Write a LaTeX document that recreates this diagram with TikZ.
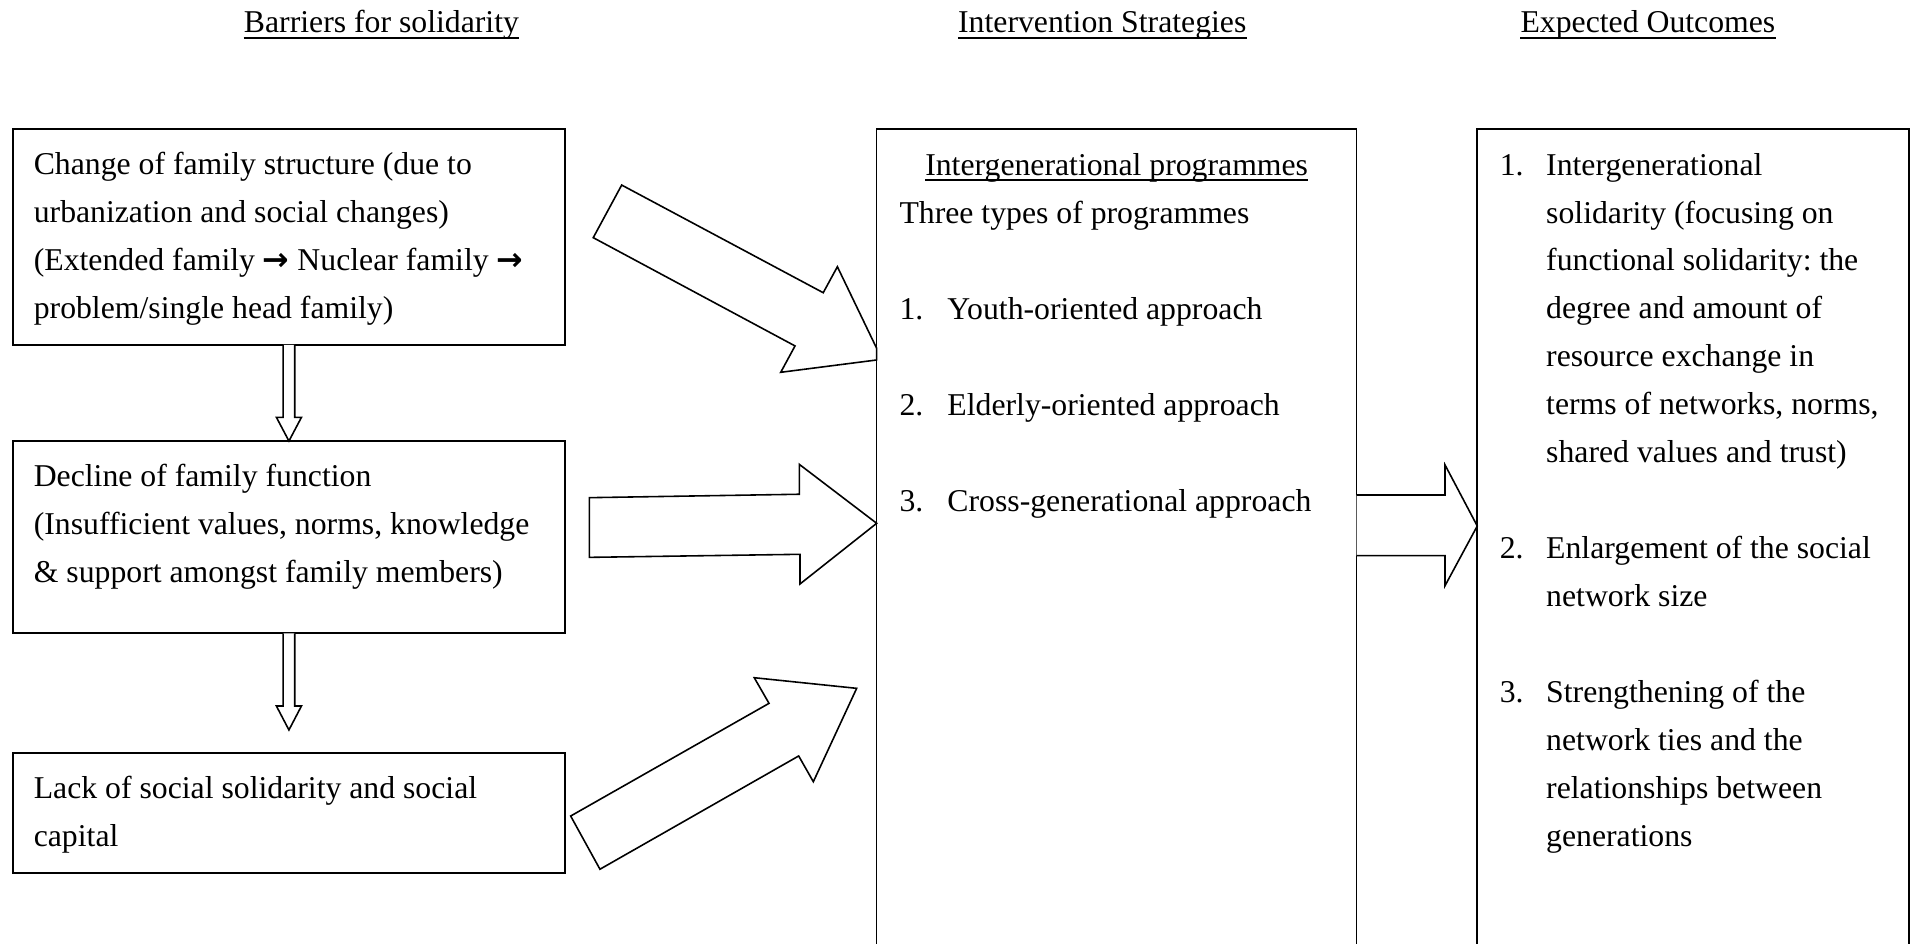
\documentclass[tikz,border=0pt]{standalone}
\usepackage{fontspec}
\setmainfont{Liberation Serif}[Ligatures=NoCommon]
\newfontfamily\arrowfont{DejaVu Sans}
\usetikzlibrary{calc}
\newcommand\linestack[1]{\vtop{\baselineskip=39.3pt\lineskiplimit=-1000pt\lineskip=0pt #1}}
\newcommand\rarr{{\arrowfont\bfseries →}}
\frenchspacing
\begin{document}
\begin{tikzpicture}[x=1pt,y=-1pt,
  frame/.style={draw, line width=1.3pt, fill=white, inner sep=0pt, outer sep=0pt, anchor=north west},
  blk/.style={draw, line width=1.3pt, line join=miter, fill=white},
  txt/.style={inner sep=0pt, anchor=base west, font=\fontsize{26pt}{39.3pt}\selectfont},
  hdr/.style={inner sep=0pt, anchor=base, font=\fontsize{26pt}{39.3pt}\selectfont},
  uline/.style={line width=1.3pt}]
\useasboundingbox (0,0) rectangle (1568,773);
\clip (0,0) rectangle (1568,773);

% headers
\node[hdr] (h1) at (312.5,27) {Barriers for solidarity};
\node[hdr] (h2) at (903,27) {Intervention Strategies};
\node[hdr] (h3) at (1350,27) {Expected Outcomes};
\foreach \h in {h1,h2,h3}{
  \draw[line width=1.6pt] ([yshift=-4.5pt]\h.base west) -- ([yshift=-4.5pt]\h.base east);
}

% frames
\node[frame, minimum width=452.4pt, minimum height=176.7pt] (b1) at (10.5,105.9) {};
\node[frame, minimum width=452.4pt, minimum height=157.5pt] (b2) at (10.5,361.3) {};
\node[frame, minimum width=452.4pt, minimum height=98.1pt] (b3) at (10.5,617.1) {};
\node[frame, minimum width=393.2pt, minimum height=720pt] (prog) at (718.2,105.9) {};
\node[frame, minimum width=353.6pt, minimum height=720pt] (out) at (1210.2,105.9) {};

% left column texts
\node[txt] (t1) at ([xshift=17pt,yshift=-37.1pt]b1.north west) {\linestack{%
  \hbox{Change of family structure (due to}%
  \hbox{urbanization and social changes)}%
  \hbox{(Extended family \rarr\ Nuclear family \rarr}%
  \hbox{problem/single head family)}}};
\node[txt] (t2) at ([xshift=17pt,yshift=-37pt]b2.north west) {\linestack{%
  \hbox{Decline of family function}%
  \hbox{(Insufficient values, norms, knowledge}%
  \hbox{\& support amongst family members)}}};
\node[txt] (t3) at ([xshift=17pt,yshift=-37pt]b3.north west) {\linestack{%
  \hbox{Lack of social solidarity and social}%
  \hbox{capital}}};

% middle column texts
\node[hdr] (ig) at ([yshift=-37.5pt]prog.north) {Intergenerational programmes};
\draw[uline] ([yshift=-4pt]ig.base west) -- ([yshift=-4pt]ig.base east);
\node[txt] (plist) at ([xshift=18.5pt,yshift=-77.1pt]prog.north west) {\linestack{%
  \hbox{Three types of programmes}%
  \hbox{}%
  \hbox{\hbox to 39.3pt{1.\hss}Youth-oriented approach}%
  \hbox{}%
  \hbox{\hbox to 39.3pt{2.\hss}Elderly-oriented approach}%
  \hbox{}%
  \hbox{\hbox to 39.3pt{3.\hss}Cross-generational approach}}};

% right column texts
\node[txt] (olist) at ([xshift=18.3pt,yshift=-37.5pt]out.north west) {\linestack{%
  \hbox{\hbox to 38pt{1.\hss}Intergenerational}%
  \hbox{\hskip38pt solidarity (focusing on}%
  \hbox{\hskip38pt functional solidarity: the}%
  \hbox{\hskip38pt degree and amount of}%
  \hbox{\hskip38pt resource exchange in}%
  \hbox{\hskip38pt terms of networks, norms,}%
  \hbox{\hskip38pt shared values and trust)}%
  \hbox{}%
  \hbox{\hbox to 38pt{2.\hss}Enlargement of the social}%
  \hbox{\hskip38pt network size}%
  \hbox{}%
  \hbox{\hbox to 38pt{3.\hss}Strengthening of the}%
  \hbox{\hskip38pt network ties and the}%
  \hbox{\hskip38pt relationships between}%
  \hbox{\hskip38pt generations}}};

% small down arrows
\draw[blk] ([xshift=-4.75pt]b1.south) -- ([xshift=-4.75pt,yshift=19.4pt]b2.north)
  -- ([xshift=-10.25pt,yshift=19.4pt]b2.north) -- (b2.north)
  -- ([xshift=10.25pt,yshift=19.4pt]b2.north) -- ([xshift=4.75pt,yshift=19.4pt]b2.north)
  -- ([xshift=4.75pt]b1.south);
\coordinate (s2tip) at ([yshift=-79.2pt]b2.south);
\draw[blk] ([xshift=-4.75pt]b2.south) -- ([xshift=-4.75pt,yshift=19.6pt]s2tip)
  -- ([xshift=-10.25pt,yshift=19.6pt]s2tip) -- (s2tip)
  -- ([xshift=10.25pt,yshift=19.6pt]s2tip) -- ([xshift=4.75pt,yshift=19.6pt]s2tip)
  -- ([xshift=4.75pt]b2.south);

% big block arrows into the programmes box
\draw[blk] (509.3,151.6) -- (674.4,239.8) -- (686,218.5) -- (718.2,285.4)
  -- (718.2,294.9) -- (639.6,305) -- (651.3,283.4) -- (486,194.7) -- cycle;
\draw[blk] (482.8,407.7) -- (654.8,404.9) -- (654.8,380.4)
  -- ($(prog.north west)+(0,322.8)$)
  -- (655.4,478.4) -- (655.4,454.1) -- (482.8,456.6) -- cycle;
\draw[blk] (467.5,668.5) -- (630,576.2) -- (617.9,555.2) -- (701.8,563.9)
  -- (666.3,640.4) -- (654.3,619.3) -- (491.5,712.1) -- cycle;

% arrow from programmes to outcomes
\draw[blk] ($(prog.north east)+(0,299.6)$) -- ($(out.north west)+(-26.4,299.6)$)
  -- ($(out.north west)+(-26.4,275)$) -- ($(out.north west)+(0,325)$)
  -- ($(out.north west)+(-26.4,373.9)$) -- ($(out.north west)+(-26.4,349.3)$)
  -- ($(prog.north east)+(0,349.3)$);
\end{tikzpicture}
\end{document}
